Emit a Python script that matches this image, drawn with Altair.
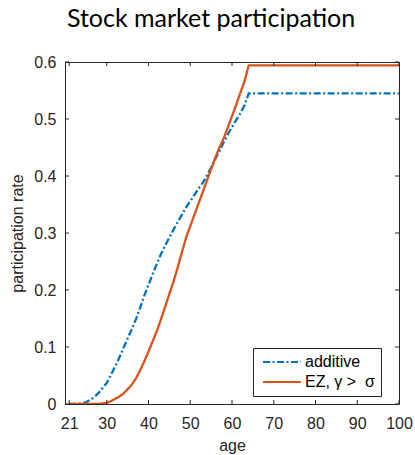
import altair as alt
import pandas as pd

# Ages at which the model is solved (participation is flat after retirement)
ages = list(range(21, 65)) + [100]

additive = [0, 0, 0.0005, 0.001, 0.003, 0.007, 0.012, 0.019, 0.028, 0.037,
            0.051, 0.066, 0.081, 0.098, 0.115, 0.131, 0.149, 0.169, 0.190, 0.209,
            0.228, 0.246, 0.263, 0.278, 0.292, 0.306, 0.319, 0.332, 0.345, 0.356,
            0.367, 0.378, 0.388, 0.401, 0.415, 0.430, 0.444, 0.459, 0.473, 0.486,
            0.498, 0.510, 0.524, 0.545, 0.545]

ez = [0, 0, 0, 0, 0, 0, 0, 0, 0.001, 0.002,
      0.005, 0.009, 0.013, 0.018, 0.026, 0.034, 0.045, 0.059, 0.075, 0.092,
      0.110, 0.128, 0.149, 0.171, 0.193, 0.215, 0.240, 0.266, 0.292, 0.312,
      0.332, 0.352, 0.372, 0.392, 0.412, 0.432, 0.450, 0.466, 0.485, 0.505,
      0.525, 0.546, 0.566, 0.594, 0.594]

series_names = ["additive", "EZ, γ >\u00a0\u00a0σ"]
x_ticks = [21, 30, 40, 50, 60, 70, 80, 90, 100]
y_ticks = [0, 0.1, 0.2, 0.3, 0.4, 0.5, 0.6]

W, H = 334, 342
AXIS_COLOR = "#262626"
TICK = 4

df = pd.DataFrame({
    "age": ages * 2,
    "rate": additive + ez,
    "model": [series_names[0]] * len(ages) + [series_names[1]] * len(ages),
})
xt = pd.DataFrame({"t": x_ticks})
yt = pd.DataFrame({"t": y_ticks})

x_scale = alt.Scale(domain=[20, 100], nice=False, zero=False)
y_scale = alt.Scale(domain=[0, 0.6], nice=False)

# wide horizontal line sample for the legend entries
legend = alt.Legend(
    title=None, orient="none", legendX=188, legendY=286,
    symbolType="M-3,0H3", symbolSize=160, symbolStrokeWidth=2.2, symbolOffset=15,
    labelFont="Liberation Sans", labelFontSize=16, labelColor="#000000",
    strokeColor=AXIS_COLOR, fillColor="white", padding=6, rowPadding=4,
    labelOffset=15,
)

lines = alt.Chart(df).mark_line(strokeWidth=2.3, clip=True).encode(
    x=alt.X("age:Q", scale=x_scale,
            axis=alt.Axis(values=x_ticks, title="age", ticks=False, domain=False,
                          grid=False, labelPadding=11, titlePadding=6,
                          labelFlush=False, labelOverlap=False)),
    y=alt.Y("rate:Q", scale=y_scale,
            axis=alt.Axis(values=y_ticks, title="participation rate", ticks=False,
                          domain=False, grid=False, labelPadding=9, titlePadding=8,
                          labelFlush=False, labelOverlap=False,
                          labelExpr="datum.value == 0 ? '0' : format(datum.value, '.1f')")),
    color=alt.Color("model:N", scale=alt.Scale(domain=series_names,
                                               range=["#0072BD", "#D95319"]),
                    legend=legend),
    strokeDash=alt.StrokeDash("model:N", scale=alt.Scale(domain=series_names,
                                                         range=[[7, 2.5, 2, 2.5], [1, 0]]),
                              legend=legend),
    order=alt.Order("age:Q"),
)

tick_style = dict(color=AXIS_COLOR, strokeWidth=1)
bottom_ticks = alt.Chart(xt).mark_rule(**tick_style).encode(
    x=alt.X("t:Q", scale=x_scale), y=alt.value(H), y2=alt.value(H - TICK))
top_ticks = alt.Chart(xt).mark_rule(**tick_style).encode(
    x=alt.X("t:Q", scale=x_scale), y=alt.value(0), y2=alt.value(TICK))
left_ticks = alt.Chart(yt).mark_rule(**tick_style).encode(
    y=alt.Y("t:Q", scale=y_scale), x=alt.value(0), x2=alt.value(TICK))
right_ticks = alt.Chart(yt).mark_rule(**tick_style).encode(
    y=alt.Y("t:Q", scale=y_scale), x=alt.value(W), x2=alt.value(W - TICK))

chart = alt.layer(
    lines, bottom_ticks, top_ticks, left_ticks, right_ticks
).properties(
    width=W, height=H,
    background="white",
    title=alt.TitleParams("Stock market participation", font="Lato", fontSize=25,
                          fontWeight="normal", color="#000000", anchor="middle",
                          frame="bounds", offset=22),
    autosize=alt.AutoSizeParams(type="none"),
    padding={"left": 65, "top": 62, "right": 16, "bottom": 51},
).configure_view(
    stroke=AXIS_COLOR, strokeWidth=1
).configure_axis(
    labelFont="Liberation Sans", labelFontSize=16, labelColor=AXIS_COLOR,
    titleFont="Liberation Sans", titleFontSize=16, titleColor=AXIS_COLOR,
    titleFontWeight="normal",
)

chart.save("out.html", embed_options={"renderer": "svg", "actions": False})
